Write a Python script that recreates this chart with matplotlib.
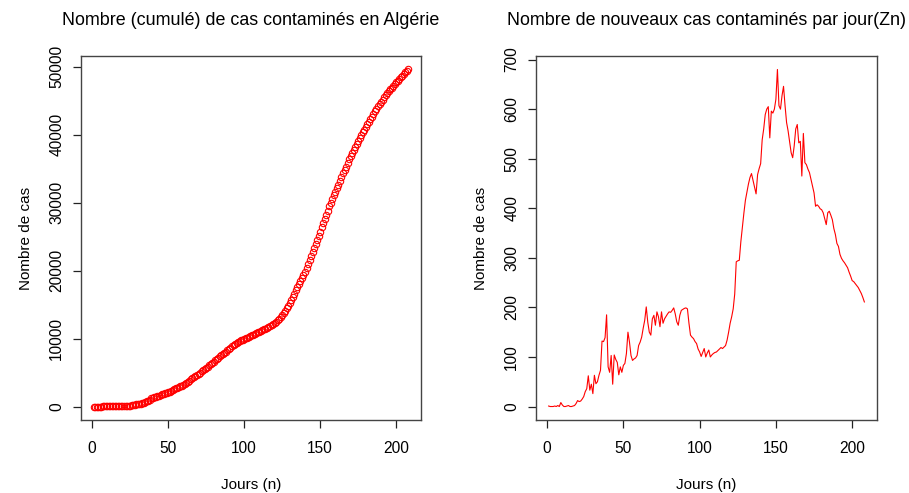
import numpy as np
import matplotlib
matplotlib.use("Agg")
import matplotlib.pyplot as plt

plt.rcParams['font.family'] = ['Liberation Sans', 'DejaVu Sans']

# Daily new cases (Zn), days 1..208
daily_new = [
    1, 0, 0, 0, 1, 0, 2, 0, 8, 3, 0, 0, 1, 2, 0, 0, 1, 2, 6, 12,
    10, 11, 15, 20, 30, 36, 62, 33, 45, 26, 63, 46, 50, 63, 73,
    132, 131, 139, 185, 80, 69, 103, 45, 104, 95, 89, 64,
    80, 69, 83, 87, 107, 150, 130, 103, 93, 96, 98, 103,
    123, 130, 140, 158, 174, 201, 170, 150, 144, 177, 184, 164,
    191, 181, 161, 191, 168, 177, 182, 187, 191, 190, 194, 199,
    187, 171, 164, 184, 194, 196, 198, 199, 197, 168, 144, 140,
    137, 131, 127, 116, 110, 101, 109, 117, 100, 108, 114, 100,
    104, 107, 109, 110, 113, 116, 119, 117, 120, 123, 134, 150,
    168, 181, 197, 227, 292, 294, 295, 332, 362, 390, 416, 432,
    449, 462, 470, 456, 442, 429, 468, 480, 490, 538, 560, 589,
    600, 605, 542, 596, 592, 600, 620, 680, 607, 600, 627, 646,
    607, 573, 556, 534, 512, 502, 526, 560, 569, 532, 535, 465,
    551, 492, 488, 479, 472, 458, 444, 431, 404, 407, 404, 399,
    397, 391, 379, 367, 391, 394, 386, 377, 359, 347, 329, 323,
    307, 299, 294, 290, 285, 280, 271, 263, 254, 252, 248, 244,
    240, 234, 228, 220, 211,
]
days = list(range(1, len(daily_new) + 1))
cumulative = np.cumsum(daily_new)

left_title = "Nombre (cumulé) de cas contaminés en Algérie"
right_title = "Nombre de nouveaux cas contaminés par jour(Zn)"
x_label = "Jours (n)"
y_label = "Nombre de cas"
x_ticks = [0, 50, 100, 150, 200]
left_yticks = [0, 10000, 20000, 30000, 40000, 50000]
right_yticks = [0, 100, 200, 300, 400, 500, 600, 700]

W, H = 909, 493
fig = plt.figure(figsize=(W / 100, H / 100), dpi=100)

def px_axes(x0, y0, x1, y1):
    return fig.add_axes([x0 / W, 1 - y1 / H, (x1 - x0) / W, (y1 - y0) / H])

ax1 = px_axes(81, 56, 421, 420)
ax2 = px_axes(536, 56, 877, 420)

ax1.plot(days, cumulative, linestyle='none', marker='o', markersize=4.6,
         markerfacecolor='none', markeredgecolor='red', markeredgewidth=0.8)
ax2.plot(days, daily_new, color='red', linewidth=0.8)

for ax, ttl, yt in [(ax1, left_title, left_yticks), (ax2, right_title, right_yticks)]:
    ax.margins(x=0.04, y=0.04)
    ax.set_xticks(x_ticks)
    ax.set_yticks(yt)
    ax.set_title(ttl, fontsize=12.9, pad=22)
    ax.set_xlabel(x_label, fontsize=11, labelpad=16)
    ax.set_ylabel(y_label, fontsize=11, labelpad=12)
    ax.tick_params(axis='both', labelsize=11.2, length=6, width=0.9, color='#222222',
                   direction='out')
    ax.tick_params(axis='x', pad=9)
    ax.tick_params(axis='y', pad=6)
    for lbl in ax.get_yticklabels():
        lbl.set_rotation(90)
        lbl.set_va('center')
    for s in ax.spines.values():
        s.set_color('#444444')
        s.set_linewidth(1.0)

fig.savefig("out.png", dpi=100, facecolor='white')
